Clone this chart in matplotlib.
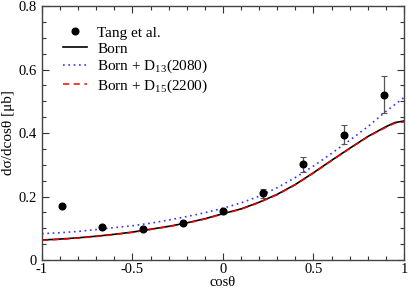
import matplotlib
matplotlib.use("Agg")
import matplotlib.pyplot as plt
from matplotlib.ticker import MultipleLocator

plt.rcParams['font.family'] = ['Liberation Serif', 'DejaVu Serif']
plt.rcParams['mathtext.fontset'] = 'custom'
plt.rcParams['mathtext.rm'] = 'Liberation Serif'

# Data
exp_x = [-0.889, -0.667, -0.444, -0.222, 0.0, 0.222, 0.444, 0.667, 0.889]
exp_y = [0.170, 0.104, 0.099, 0.116, 0.153, 0.210, 0.301, 0.395, 0.521]
exp_err = [0.006, 0.006, 0.006, 0.007, 0.009, 0.014, 0.024, 0.029, 0.059]

curve_x = [-1.0, -0.9, -0.8, -0.7, -0.6, -0.5, -0.4, -0.3, -0.2, -0.1, 0.0,
           0.1, 0.2, 0.3, 0.4, 0.5, 0.6, 0.7, 0.8, 0.9, 0.95, 1.0]
born = [0.063, 0.066, 0.070, 0.075, 0.081, 0.088, 0.097, 0.106, 0.117, 0.130, 0.146,
        0.161, 0.182, 0.207, 0.238, 0.275, 0.314, 0.352, 0.389, 0.420, 0.433, 0.438]
born_d15 = [0.062, 0.065, 0.069, 0.074, 0.080, 0.087, 0.096, 0.105, 0.116, 0.129, 0.145,
            0.160, 0.181, 0.206, 0.237, 0.274, 0.313, 0.351, 0.388, 0.418, 0.431, 0.435]
born_d13 = [0.083, 0.086, 0.090, 0.096, 0.102, 0.108, 0.116, 0.126, 0.137, 0.149, 0.163,
            0.180, 0.201, 0.228, 0.260, 0.296, 0.336, 0.377, 0.420, 0.468, 0.490, 0.512]

x_ticks = [-1, -0.5, 0, 0.5, 1]
x_labels = ['-1', '-0.5', '0', '0.5', '1']
y_ticks = [0, 0.2, 0.4, 0.6, 0.8]
y_labels = ['0', '0.2', '0.4', '0.6', '0.8']

fig = plt.figure(figsize=(4.09, 2.91), dpi=100)
ax = fig.add_axes([0.1027, 0.1065, 0.885, 0.8725])

ax.errorbar(exp_x, exp_y, yerr=exp_err, fmt='none',
            ecolor='#555555', elinewidth=0.9, capsize=2, capthick=0.8, zorder=5)
ax.plot(exp_x, exp_y, 'o', color='black', ms=4.8, label='Tang et al.', zorder=6)
ax.plot(curve_x, born, color='black', lw=1.2, label='Born')
ax.plot(curve_x, born_d13, color='#3333ff', lw=1.2, linestyle=(0, (1, 2.2)),
        label=r'Born + D$_{13}$(2080)')
ax.plot(curve_x, born_d15, color='#ff0000', lw=1.1, linestyle=(0, (4, 3)),
        label=r'Born + D$_{15}$(2200)')

ax.set_xlim(-1, 1)
ax.set_ylim(0, 0.8)
ax.set_xticks(x_ticks)
ax.set_xticklabels(x_labels)
ax.set_yticks(y_ticks)
ax.set_yticklabels(y_labels)
ax.xaxis.set_minor_locator(MultipleLocator(0.1))
ax.yaxis.set_minor_locator(MultipleLocator(0.05))
ax.tick_params(which='both', direction='in', top=True, right=True,
               labelsize=10.5, colors='#333333', labelcolor='black')
ax.tick_params(which='major', length=5, width=0.8)
ax.tick_params(which='minor', length=3, width=0.8)
ax.tick_params(axis='x', pad=2)
ax.tick_params(axis='y', pad=4)
for s in ax.spines.values():
    s.set_color('#444444')
    s.set_linewidth(1.0)

ax.set_xlabel('cosθ', fontsize=10.5)
ax.xaxis.set_label_coords(0.5, -0.064)
ax.set_ylabel('dσ/dcosθ [μb]', fontsize=11)
ax.yaxis.set_label_coords(-0.075, 0.5)

leg = ax.legend(loc='upper left', bbox_to_anchor=(0.058, 0.922), frameon=False,
                fontsize=11, handlelength=1.6, handletextpad=0.64,
                labelspacing=0.15, borderaxespad=0.0, borderpad=0.0)

fig.savefig('out.png', dpi=100)
